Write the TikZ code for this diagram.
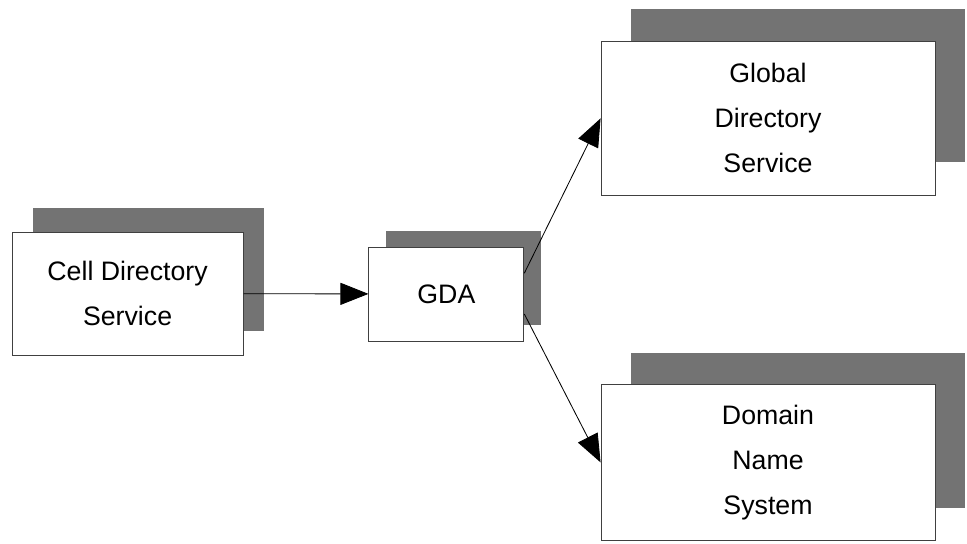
\documentclass[tikz,border=0pt]{standalone}
\usepackage{fontspec}
\setmainfont{Liberation Sans}
\usetikzlibrary{arrows.meta,shadows}

\tikzset{
  svcbox/.style={draw=black!75,fill=white,align=center,inner sep=0pt,
    font=\fontsize{19}{32}\selectfont},
  boxshadow/.style 2 args={drop shadow={shadow xshift=#1,shadow yshift=#2,
    fill=black!55,opacity=1}},
}

\begin{document}
\begin{tikzpicture}[>={Triangle[length=0.7cm,width=0.55cm]},line width=0.6pt]
\useasboundingbox (0,0) rectangle (24.175,13.6);
\node[svcbox,boxshadow={0.53cm}{0.6cm},minimum width=5.78cm,minimum height=3.08cm](cds) at (3.19,6.26){Cell Directory\\Service};
\node[svcbox,boxshadow={0.42cm}{0.4cm},minimum width=3.875cm,minimum height=2.35cm](gda) at (11.16,6.25){GDA};
\node[svcbox,boxshadow={0.75cm}{0.82cm},minimum width=8.35cm,minimum height=3.83cm](gds) at (19.2,10.64){Global\\Directory\\Service};
\node[svcbox,boxshadow={0.75cm}{0.8cm},minimum width=8.35cm,minimum height=3.88cm](dns) at (19.2,2.04){Domain\\Name\\System};
\draw[->](cds)--(gda);
\draw[->]([yshift=0.52cm]gda.east)--(gds.west);
\draw[->]([yshift=-0.5cm]gda.east)--(dns.west);
\end{tikzpicture}
\end{document}
